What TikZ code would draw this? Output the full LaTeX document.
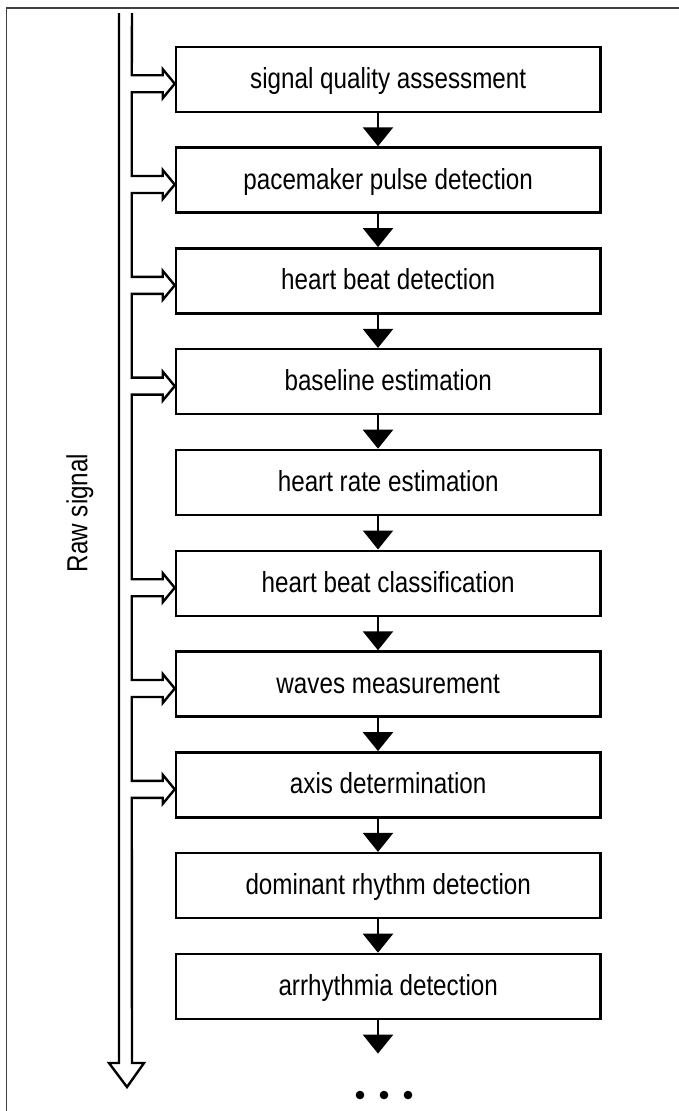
\documentclass[tikz,border=0pt]{standalone}
\usepackage{fontspec}
\setmainfont{Liberation Sans}[FakeStretch=0.835]
\usetikzlibrary{calc,arrows.meta}
\begin{document}
\begin{tikzpicture}[x=1pt,y=-1pt,
  lw/.style={line width=2.4pt},
  txt/.style={font=\fontsize{29}{32}\selectfont},
  stage/.style={draw,lw,txt,minimum width=424.5pt,minimum height=65pt,inner sep=0pt,
    text height=18pt,text depth=0pt},
  flow/.style={lw,-{Triangle[width=30pt,length=19pt]}},
  bus/.style={lw,line join=miter,fill=white},
  frame/.style={line width=1.6pt,draw=black!75},
  label/.style={txt,rotate=90}]
\useasboundingbox (0,0) rectangle (679,1111);
% frame
\draw[frame] (6.5,1111) -- (6.5,8) -- (679,8);
% processing stages
\foreach \i/\t in {1/signal quality assessment,2/pacemaker pulse detection,
  3/heart beat detection,4/baseline estimation,5/heart rate estimation,
  6/heart beat classification,7/waves measurement,8/axis determination,
  9/dominant rhythm detection,10/arrhythmia detection}
  \node[stage] (b\i) at (388.2,{79.2+100.8*(\i-1)}) {\t};
\coordinate (col) at (378,0);
% sequential flow between stages
\foreach \i [evaluate=\i as \j using int(\i+1)] in {1,...,9}
  \draw[flow] (b\i.south -| col) -- (b\j.north -| col);
\coordinate (more) at (384,1095);
\draw[flow] (b10.south -| col) -- ($(b10.south -| col)+(0,33.5)$);
\foreach \dx in {-24,0,24}
  \fill ($(more)+(\dx,0)$) circle (4.3);
% raw signal bus with branches into the stages
\draw[bus] (132,13)
  \foreach \b in {b1,b2,b3,b4,b6,b7,b8} {
    -- ($(\b.west)+(-43,-4)$) -- ($(\b.west)+(-12,-4)$)
    -- ($(\b.west)+(-12,-10)$) -- ($(\b.west)+(0,4.5)$)
    -- ($(\b.west)+(-12,19)$) -- ($(\b.west)+(-12,13)$)
    -- ($(\b.west)+(-43,13)$) }
  -- (132,1063) -- (144,1063) -- (127,1087) -- (109,1063) -- (119,1063) -- (119,13);
\node[label] (raw) at (80,513) {Raw signal};
\end{tikzpicture}
\end{document}
